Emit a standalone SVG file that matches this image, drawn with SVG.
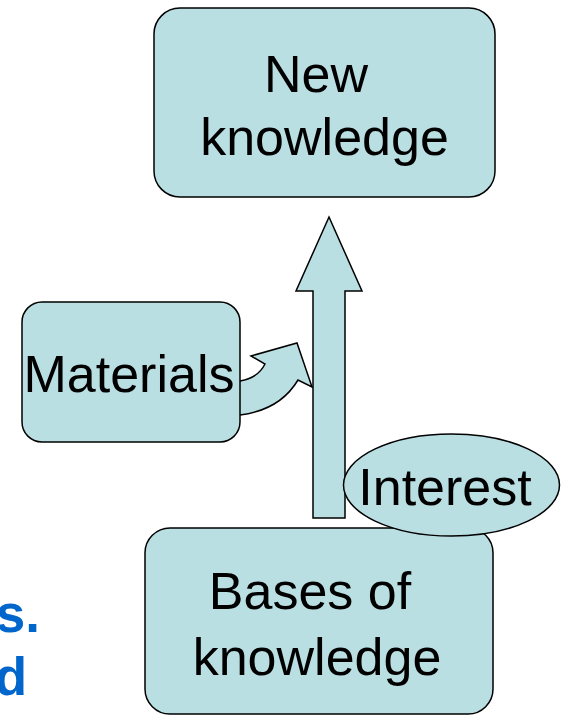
<svg xmlns="http://www.w3.org/2000/svg" width="562" height="716" viewBox="0 0 562 716">
  <style>
    .shape { fill: #BADFE3; stroke: #000; stroke-width: 1.5; stroke-linejoin: miter; }
    .label { font-family: "Liberation Sans", Arial, sans-serif; font-size: 52px; fill: #000; text-anchor: middle; }
    .side { font-family: "Liberation Sans", Arial, sans-serif; font-size: 53px; font-weight: bold; fill: #0066CC; text-anchor: end; }
  </style>
  <rect width="562" height="716" fill="#fff"/>

  <!-- partly hidden side text -->
  <text class="side" x="40" y="632">s.</text>
  <text class="side" x="27" y="695">d</text>

  <g id="connectors">
    <!-- curved arrow from Materials into the main flow -->
    <path class="shape" d="M228,382 L240,381 Q258,378 265,364 L251,356 L297,343 L312,387 L298,380 Q280,410 240,415 L228,415 Z"/>
    <!-- upward block arrow -->
    <polygon class="shape" points="329,217 362,291 345,291 345,518 313,518 313,291 296,291"/>
  </g>

  <g id="new-knowledge">
    <rect class="shape" x="154" y="8" width="341" height="189" rx="26" ry="26"/>
    <text class="label" x="316" y="92">New</text>
    <text class="label" x="324.5" y="155">knowledge</text>
  </g>

  <g id="materials">
    <rect class="shape" x="22" y="302" width="218" height="140" rx="20" ry="20"/>
    <text class="label" x="129" y="392">Materials</text>
  </g>

  <g id="bases">
    <rect class="shape" x="145" y="528" width="348" height="186" rx="25" ry="25"/>
    <text class="label" x="310" y="609">Bases of</text>
    <text class="label" x="317" y="675">knowledge</text>
  </g>

  <g id="interest">
    <ellipse class="shape" cx="451.5" cy="485" rx="108" ry="51"/>
    <text class="label" x="445" y="505">Interest</text>
  </g>
</svg>
